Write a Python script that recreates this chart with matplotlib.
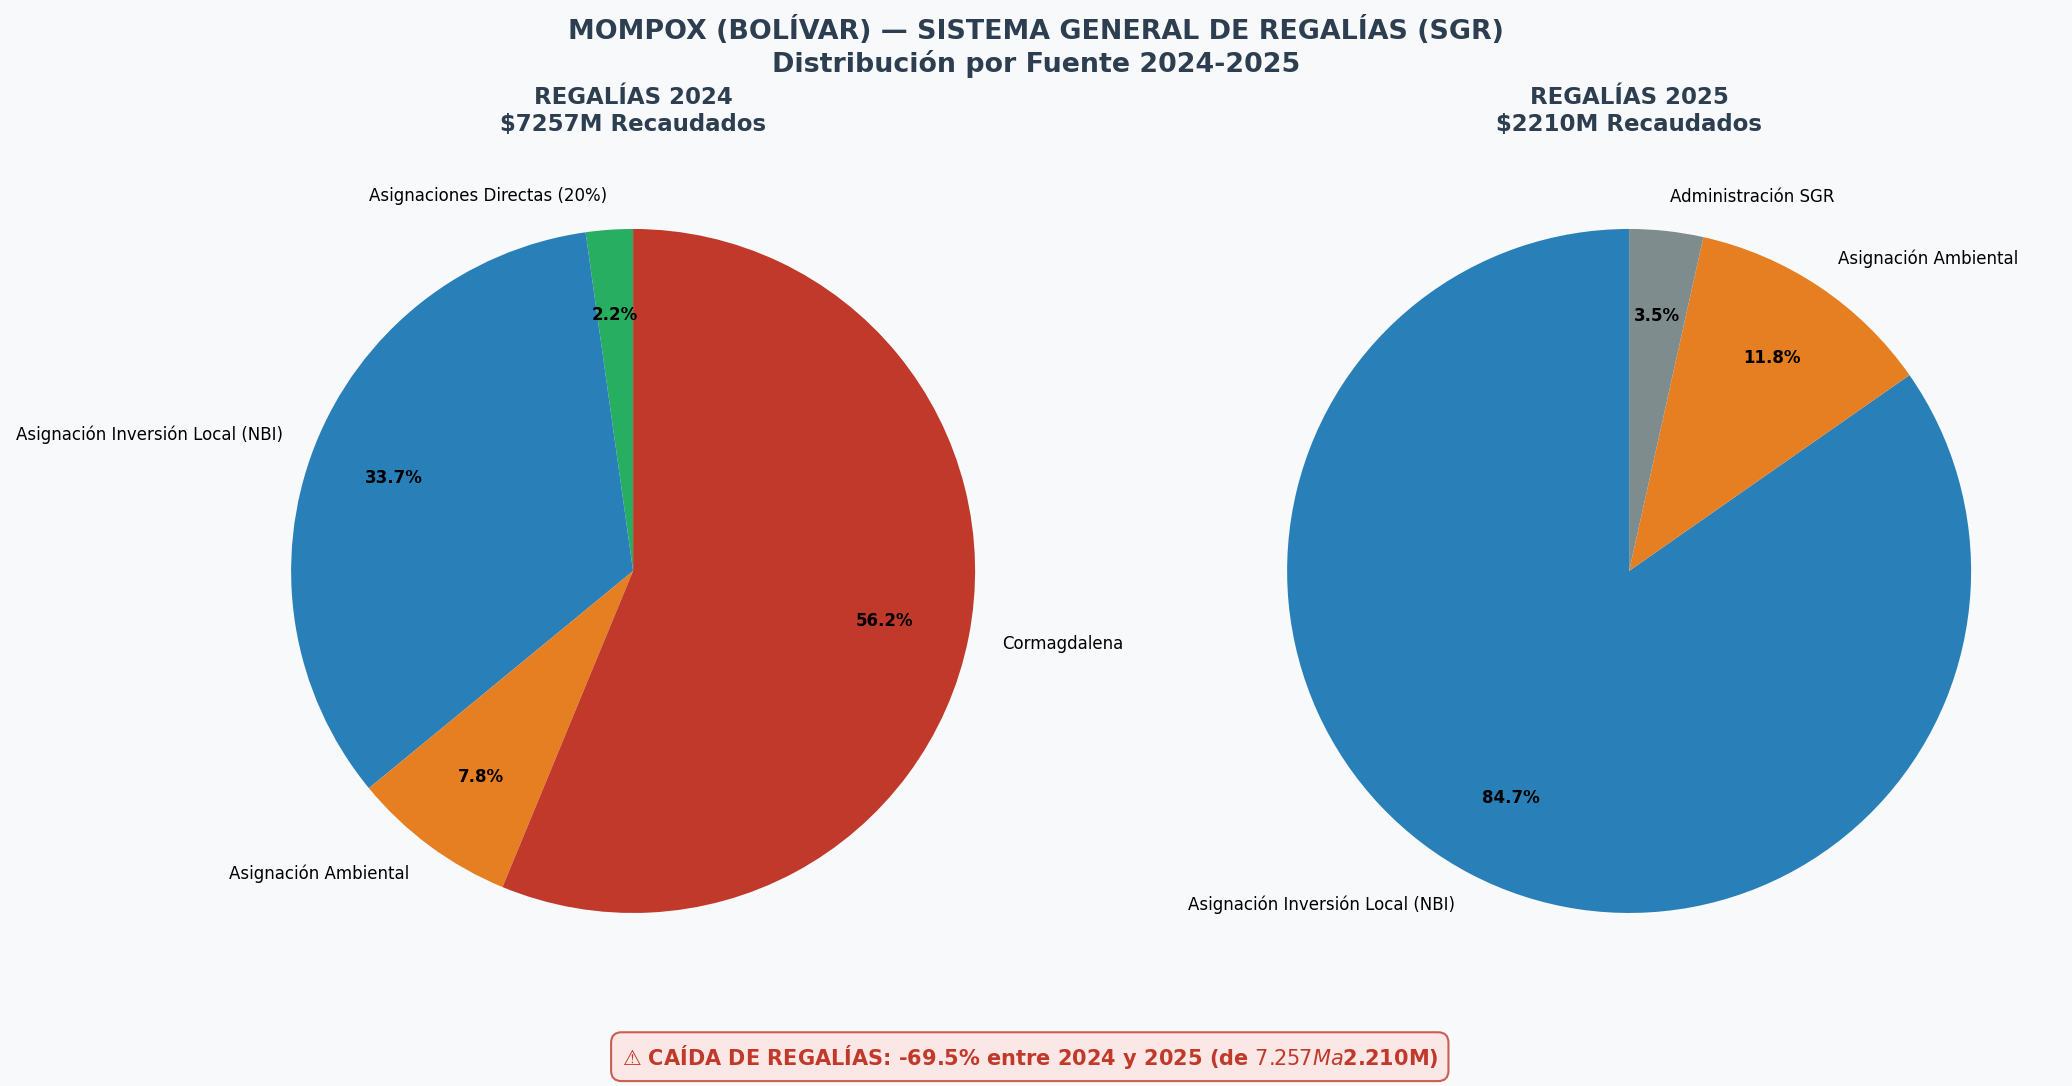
import matplotlib.pyplot as plt

BG = '#f8f9fa'
TITLE_COLOR = '#2c3e50'

# 2024 sources (millions COP), counter-clockwise from the top
labels_2024 = ['Asignaciones Directas (20%)', 'Asignación Inversión Local (NBI)',
               'Asignación Ambiental', 'Cormagdalena']
values_2024 = [161, 2448, 567, 4081]
colors_2024 = ['#27ae60', '#2980b9', '#e67e22', '#c0392b']

# 2025 sources
labels_2025 = ['Asignación Inversión Local (NBI)', 'Asignación Ambiental', 'Administración SGR']
values_2025 = [1872, 261, 77]
colors_2025 = ['#2980b9', '#e67e22', '#7f8c8d']

total_2024 = 7257
total_2025 = 2210
drop_pct = -69.5

fig = plt.figure(figsize=(20.72, 10.86), dpi=100, facecolor=BG)
ax1 = fig.add_axes([0.0992, 0.0806, 0.4127, 0.7873])
ax2 = fig.add_axes([0.5799, 0.0806, 0.4127, 0.7873])

for ax, vals, labs, cols, yr, tot in [(ax1, values_2024, labels_2024, colors_2024, 2024, total_2024),
                                      (ax2, values_2025, labels_2025, colors_2025, 2025, total_2025)]:
    ax.set_facecolor(BG)
    wedges, texts, autotexts = ax.pie(vals, labels=labs, colors=cols, autopct='%1.1f%%',
                                      startangle=90, pctdistance=0.75, labeldistance=1.1,
                                      textprops={'fontsize': 12})
    for t in autotexts:
        t.set_fontweight('bold')
        t.set_fontsize(12)
    ax.set_title(f'REGALÍAS {yr}\n${tot}M Recaudados', fontsize=16.5, fontweight='bold',
                 color=TITLE_COLOR, pad=9)

fig.suptitle('MOMPOX (BOLÍVAR) — SISTEMA GENERAL DE REGALÍAS (SGR)\nDistribución por Fuente 2024-2025',
             fontsize=19.4, fontweight='bold', color=TITLE_COLOR, y=0.985)

fig.text(0.497, 0.027,
         f'⚠ CAÍDA DE REGALÍAS: {drop_pct}% entre 2024 y 2025 (de $7.257M a $2.210M)',
         ha='center', va='center', fontsize=15, fontweight='bold', color='#c0392b',
         bbox=dict(boxstyle='round,pad=0.5', facecolor='#fde3e0', edgecolor='#c0392b',
                   linewidth=1.5, alpha=0.8))

fig.savefig('out.png', dpi=100, facecolor=BG)
